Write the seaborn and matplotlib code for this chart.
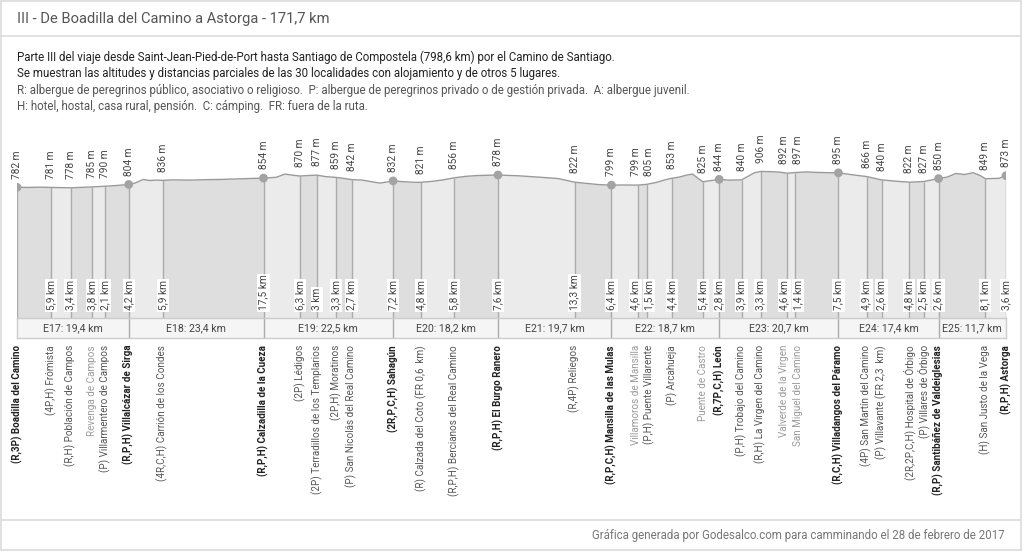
import matplotlib
matplotlib.use("Agg")
import matplotlib.pyplot as plt
import matplotlib.transforms as mtransforms
from matplotlib.lines import Line2D
import seaborn as sns
import numpy as np
import pandas as pd

sns.set_theme(style="white")
plt.rcParams['font.family'] = ['Roboto', 'DejaVu Sans']

# ---------------- data ----------------
title = "III - De Boadilla del Camino a Astorga - 171,7 km"
subtitle_dark = [
    "Parte III del viaje desde Saint-Jean-Pied-de-Port hasta Santiago de Compostela (798,6 km) por el Camino de Santiago.",
    "Se muestran las altitudes y distancias parciales de las 30 localidades con alojamiento y de otros 5 lugares.",
]
subtitle_light = [
    "R: albergue de peregrinos público, asociativo o religioso.  P: albergue de peregrinos privado o de gestión privada.  A: albergue juvenil.",
    "H: hotel, hostal, casa rural, pensión.  C: cámping.  FR: fuera de la ruta.",
]
footer = "Gráfica generada por Godesalco.com para camminando el 28 de febrero de 2017"

place_labels = [
    "(R,3P) Boadilla del Camino", "(4P,H) Frómista", "(R,H) Población de Campos",
    "Revenga de Campos", "(P) Villarmentero de Campos", "(R,P,H) Villalcázar de Sirga",
    "(4R,C,H) Carrión de los Condes", "(R,P,H) Calzadilla de la Cueza", "(2P) Lédigos",
    "(2P) Terradillos de los Templarios", "(2P,H) Moratinos", "(P) San Nicolás del Real Camino",
    "(2R,P,C,H) Sahagún", "(R) Calzada del Coto (FR 0,6  km)", "(R,P,H) Bercianos del Real Camino",
    "(R,P,H) El Burgo Ranero", "(R,4P) Reliegos", "(R,P,C,H) Mansilla de las Mulas",
    "Villamoros de Mansilla", "(P,H) Puente Villarente", "(P) Arcahueja",
    "Puente de Castro", "(R,7P,C,H) León", "(P,H) Trobajo del Camino",
    "(R,H) La Virgen del Camino", "Valverde de la Virgen", "San Miguel del Camino",
    "(R,C,H) Villadangos del Páramo", "(4P) San Martín del Camino", "(P) Villavante (FR 2,3  km)",
    "(2R,2P,C,H) Hospital de Órbigo", "(P) Villares de Órbigo", "(R,P) Santibáñez de Valdeiglesias",
    "(H) San Justo de la Vega", "(R,P,H) Astorga",
]
partial_km = [0, 5.9, 3.4, 3.8, 2.1, 4.2, 5.9, 17.5, 6.3, 3.0, 3.3, 2.7, 7.2, 4.8, 5.8, 7.6,
              13.3, 6.4, 4.6, 1.5, 4.4, 5.4, 2.8, 3.9, 3.3, 4.6, 1.4, 7.5, 4.9, 2.6, 4.8,
              2.5, 2.6, 8.1, 3.6]
altitudes = [782, 781, 778, 785, 790, 804, 836, 854, 870, 877, 859, 842, 832, 821, 856, 878,
             822, 799, 799, 805, 853, 825, 844, 840, 906, 892, 897, 895, 866, 840, 822,
             827, 850, 849, 873]
# 's' = stage end, 'a' = with accommodation, 'n' = without accommodation
place_kind = ['s', 'a', 'a', 'n', 'a', 's', 'a', 's', 'a', 'a', 'a', 'a', 's', 'a', 'a', 's',
              'a', 's', 'n', 'a', 'a', 'n', 's', 'a', 'a', 'n', 'n', 's', 'a', 'a', 'a',
              'a', 's', 'a', 's']

stage_names = ["E17", "E18", "E19", "E20", "E21", "E22", "E23", "E24", "E25"]
stage_km = [19.4, 23.4, 22.5, 18.2, 19.7, 18.7, 20.7, 17.4, 11.7]

# intermediate points of the terrain profile (km, m)
profile_km = [2, 4, 8, 11, 17, 20.5, 21.9, 23.0, 24.3, 27, 30, 33, 35, 38, 40, 45, 46.5, 48,
              50.5, 53.5, 57, 60, 62, 63, 64.3, 67, 69, 72, 74, 78, 80, 84.5, 87, 91, 94, 96,
              99, 101, 105, 111, 112.5, 115, 116.5, 117.3, 118.3, 120.5, 123.5, 127, 128,
              131, 132.5, 137, 139, 141, 145, 152.5, 161.5, 163, 164.5, 166, 167.3, 170.5]
profile_alt = [781, 783, 779, 781, 795, 815, 843, 835, 838, 840, 838, 842, 843, 847, 850, 860,
               885, 876, 874, 866, 850, 838, 822, 815, 824, 826, 821, 828, 840, 868, 874, 876,
               872, 860, 850, 830, 812, 803, 800, 820, 840, 862, 880, 885, 850, 835, 838,
               870, 895, 904, 900, 902, 898, 896, 880, 830, 862, 890, 882, 896, 872, 852]

# ---------------- layout ----------------
W, H = 1024, 552
def fx(px): return px / W
def fy(py): return 1 - py / H

X0, X1 = 17, 1006
PTOP, PBOT = 140, 318.3
BAR_BOT = 337.7

cum = np.round(np.cumsum(partial_km), 1)
total = float(cum[-1])
pxkm = (X1 - X0) / total

# spread label positions so neighbouring rotated labels do not collide
def spread(pos, dmin):
    p = np.array(pos, dtype=float)
    for _ in range(50):
        for i in range(len(p) - 1):
            gap = p[i + 1] - p[i]
            if gap < dmin:
                sh = (dmin - gap) / 2
                p[i] -= sh
                p[i + 1] += sh
    return p

lab_km = spread(cum * pxkm, 13.5) / pxkm

fig = plt.figure(figsize=(10.24, 5.52), dpi=100)
fig.patch.set_facecolor('white')

# frame lines
frame_c = '#dcdcdc'
for (xa, ya, xb, yb) in [(1, 1, 1021, 1), (1, 36, 1021, 36), (1, 520, 1021, 520), (1, 550, 1021, 550),
                         (1, 1, 1, 550), (1021, 1, 1021, 550)]:
    fig.add_artist(Line2D([fx(xa), fx(xb)], [fy(ya), fy(yb)], color=frame_c, lw=1.2,
                          transform=fig.transFigure))

fig.text(fx(17), fy(18.5), title, fontsize=10.6, color='#555555', ha='left', va='center')
ys = [57, 73.5, 90, 106.5]
for i, line in enumerate(subtitle_dark + subtitle_light):
    fig.text(fx(17), fy(ys[i]), line, fontsize=8.3,
             color='#222222' if i < 2 else '#555555', ha='left', va='center')
fig.text(fx(1005), fy(536), footer, fontsize=8.3, color='#777777', ha='right', va='center')

# profile axes
ax = fig.add_axes([fx(X0), fy(PBOT), fx(X1) - fx(X0), (PBOT - PTOP) / H])
YB, YT = -241.4, 1151.5

prof = pd.DataFrame({'km': list(profile_km) + list(cum), 'alt': list(profile_alt) + list(altitudes)})
prof = prof.sort_values('km').reset_index(drop=True)

for i in range(len(cum) - 1):
    m = (prof['km'] >= cum[i] - 1e-6) & (prof['km'] <= cum[i + 1] + 1e-6)
    seg = prof[m]
    ax.fill_between(seg['km'], seg['alt'], YB, color='#dedede' if i % 2 == 0 else '#ebebeb', lw=0)

for i in range(len(cum)):
    ax.plot([cum[i], cum[i]], [altitudes[i], YB], color='#ababab', lw=1, solid_capstyle='butt')

sns.lineplot(data=prof, x='km', y='alt', ax=ax, color='#9a9a9a', lw=1, estimator=None)

places = pd.DataFrame({'km': cum, 'alt': altitudes, 'kind': place_kind})
sns.scatterplot(data=places[places['kind'] == 's'], x='km', y='alt', ax=ax, color='#a3a3a3',
                s=40, edgecolor='none', zorder=5, legend=False)
ax.set_xlim(0, total)
ax.set_ylim(YB, YT)
ax.axis('off')

for i in range(len(cum)):
    ax.annotate(f"{altitudes[i]} m", (lab_km[i], altitudes[i]), xytext=(0, 6.3), textcoords='offset points',
                rotation=90, ha='center', va='bottom', fontsize=7.3, color='#444444', annotation_clip=False)

def fmt_km(v):
    s = f"{v:.1f}".replace('.', ',')
    if s.endswith(',0'):
        s = s[:-2]
    return s + " km"

trx = ax.get_xaxis_transform()
ylab = (PBOT - 310.5) / (PBOT - PTOP)
for i in range(1, len(cum)):
    ax.text(lab_km[i], ylab, fmt_km(partial_km[i]), rotation=90, ha='center', va='bottom',
            fontsize=7.3, color='#444444', transform=trx,
            bbox=dict(boxstyle='square,pad=0.12', fc='white', ec='none'))

# stage bar
bax = fig.add_axes([fx(X0), fy(BAR_BOT), fx(X1) - fx(X0), (BAR_BOT - PBOT) / H])
bax.set_xlim(0, total)
bax.set_ylim(0, 1)
bax.set_facecolor('#f5f5f5')
bax.set_xticks([]); bax.set_yticks([])
for sp in bax.spines.values():
    sp.set_color('#cccccc'); sp.set_linewidth(1)
stage_edges = np.concatenate([[0], np.cumsum(stage_km)])
for e in stage_edges[1:-1]:
    bax.axvline(e, color='#ababab', lw=1)
for k, name in enumerate(stage_names):
    mid = (stage_edges[k] + stage_edges[k + 1]) / 2
    bax.text(mid, 0.5, f"{name}: {fmt_km(stage_km[k])}", ha='center', va='center',
             fontsize=7.6, color='#444444')

# place labels
btr = mtransforms.blended_transform_factory(ax.transData, fig.transFigure)
for i, lab in enumerate(place_labels):
    k = place_kind[i]
    color = {'s': '#222222', 'a': '#555555', 'n': '#9a9a9a'}[k]
    weight = 'bold' if k == 's' else 'normal'
    ax.text(lab_km[i], fy(345), lab, rotation=90, ha='center', va='top', fontsize=7.1,
            color=color, fontweight=weight, transform=btr, clip_on=False)

fig.savefig("out.png", dpi=100, facecolor='white')
